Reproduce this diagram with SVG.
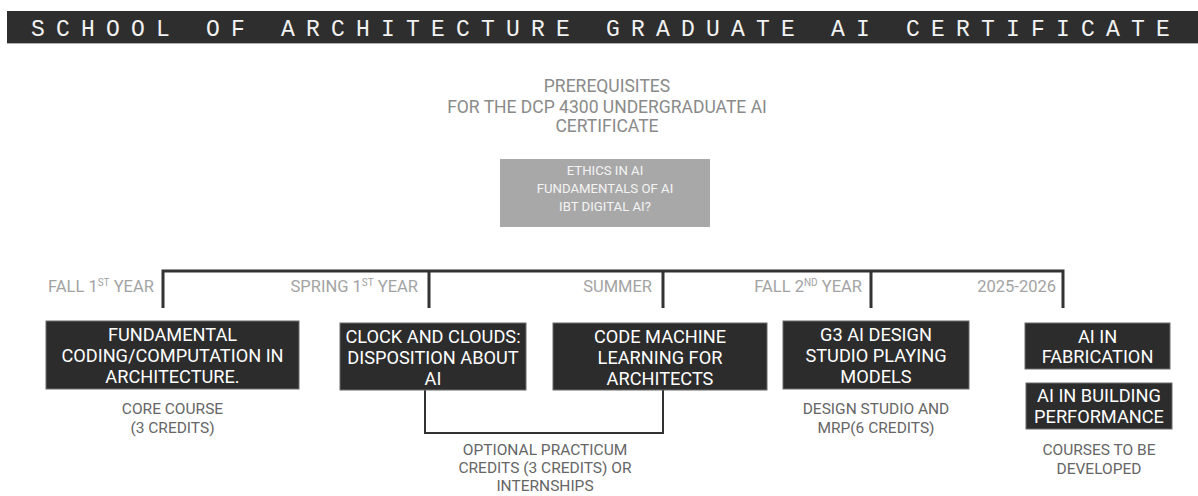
<svg xmlns="http://www.w3.org/2000/svg" width="1198" height="496" viewBox="0 0 1198 496">
<style>
.title{font-family:"Liberation Mono","DejaVu Sans Mono",monospace;font-size:23px;fill:#f2f2f2;letter-spacing:11.2px}
.pre{font-family:Roboto,"Liberation Sans",sans-serif;font-size:17.5px;fill:#8a8a8a;text-anchor:middle}
.gbox{fill:#a8a8a8}
.gtxt{font-family:Roboto,"Liberation Sans",sans-serif;font-size:13.2px;fill:#f4f4f4;text-anchor:middle}
.per{font-family:Roboto,"Liberation Sans",sans-serif;font-size:16.5px;fill:#a3a3a3}
.sup{font-size:10px}
.box{fill:#2c2c2c;stroke:#6a6a6a;stroke-width:1}
.btxt{font-family:Roboto,"Liberation Sans",sans-serif;font-size:18.2px;fill:#ffffff;text-anchor:middle}
.cap{font-family:Roboto,"Liberation Sans",sans-serif;font-size:15.5px;fill:#666666;text-anchor:middle}
.line{fill:none;stroke:#333333;stroke-width:3}
.thin{fill:none;stroke:#333333;stroke-width:2}
</style>
<g id="title">
<rect x="7" y="11" width="1191" height="32" fill="#2e2e2e"/>
<line x1="7" y1="43.5" x2="1198" y2="43.5" stroke="#b0b0b0" stroke-width="1"/>
<text class="title" x="31" y="36">SCHOOL OF ARCHITECTURE GRADUATE AI CERTIFICATE</text>
</g>
<g id="prerequisites">
<text class="pre" x="607" y="92">PREREQUISITES</text>
<text class="pre" x="607" y="113">FOR THE DCP 4300 UNDERGRADUATE AI</text>
<text class="pre" x="607" y="132">CERTIFICATE</text>
</g>
<g id="prereq-courses">
<rect class="gbox" x="500" y="159" width="210" height="68"/>
<text class="gtxt" x="605" y="175">ETHICS IN AI</text>
<text class="gtxt" x="605" y="193">FUNDAMENTALS OF AI</text>
<text class="gtxt" x="605" y="211">IBT DIGITAL AI?</text>
</g>
<g id="connectors">
<polyline class="line" points="163,308 163,271 1063,271 1063,308"/>
<line class="line" x1="429" y1="271" x2="429" y2="308"/>
<line class="line" x1="663" y1="271" x2="663" y2="308"/>
<line class="line" x1="871" y1="271" x2="871" y2="308"/>
<polyline class="thin" points="425,390 425,433 663,433 663,390"/>
</g>
<g id="periods">
<text class="per" x="48" y="292">FALL 1<tspan class="sup" dy="-6">ST</tspan><tspan dy="6"> YEAR</tspan></text>
<text class="per" x="418" y="292" text-anchor="end">SPRING 1<tspan class="sup" dy="-6">ST</tspan><tspan dy="6"> YEAR</tspan></text>
<text class="per" x="652" y="292" text-anchor="end">SUMMER</text>
<text class="per" x="862" y="292" text-anchor="end">FALL 2<tspan class="sup" dy="-6">ND</tspan><tspan dy="6"> YEAR</tspan></text>
<text class="per" x="1056" y="292" text-anchor="end">2025-2026</text>
</g>
<g id="fundamental">
<rect class="box" x="46" y="321" width="253" height="68"/>
<text class="btxt" x="172.5" y="341">FUNDAMENTAL</text>
<text class="btxt" x="172.5" y="362">CODING/COMPUTATION IN</text>
<text class="btxt" x="172.5" y="383">ARCHITECTURE.</text>
<text class="cap" x="172.5" y="414">CORE COURSE</text>
<text class="cap" x="172.5" y="433">(3 CREDITS)</text>
</g>
<g id="clock">
<rect class="box" x="340" y="323" width="186" height="67"/>
<text class="btxt" x="433" y="343">CLOCK AND CLOUDS:</text>
<text class="btxt" x="433" y="364">DISPOSITION ABOUT</text>
<text class="btxt" x="433" y="385">AI</text>
</g>
<g id="code-ml">
<rect class="box" x="553" y="323" width="214" height="67"/>
<text class="btxt" x="660" y="343">CODE MACHINE</text>
<text class="btxt" x="660" y="364">LEARNING FOR</text>
<text class="btxt" x="660" y="385">ARCHITECTS</text>
</g>
<g id="practicum">
<text class="cap" x="545" y="455">OPTIONAL PRACTICUM</text>
<text class="cap" x="545" y="473">CREDITS (3 CREDITS) OR</text>
<text class="cap" x="545" y="491">INTERNSHIPS</text>
</g>
<g id="g3">
<rect class="box" x="783" y="321" width="186" height="68"/>
<text class="btxt" x="876" y="341">G3 AI DESIGN</text>
<text class="btxt" x="876" y="362">STUDIO PLAYING</text>
<text class="btxt" x="876" y="383">MODELS</text>
<text class="cap" x="876" y="414">DESIGN STUDIO AND</text>
<text class="cap" x="876" y="433">MRP(6 CREDITS)</text>
</g>
<g id="fabrication">
<rect class="box" x="1025" y="323" width="145" height="46"/>
<text class="btxt" x="1097.5" y="343">AI IN</text>
<text class="btxt" x="1097.5" y="363">FABRICATION</text>
</g>
<g id="building">
<rect class="box" x="1026" y="383" width="146" height="46"/>
<text class="btxt" x="1099" y="402">AI IN BUILDING</text>
<text class="btxt" x="1099" y="423">PERFORMANCE</text>
<text class="cap" x="1099" y="455">COURSES TO BE</text>
<text class="cap" x="1099" y="474">DEVELOPED</text>
</g>
</svg>
